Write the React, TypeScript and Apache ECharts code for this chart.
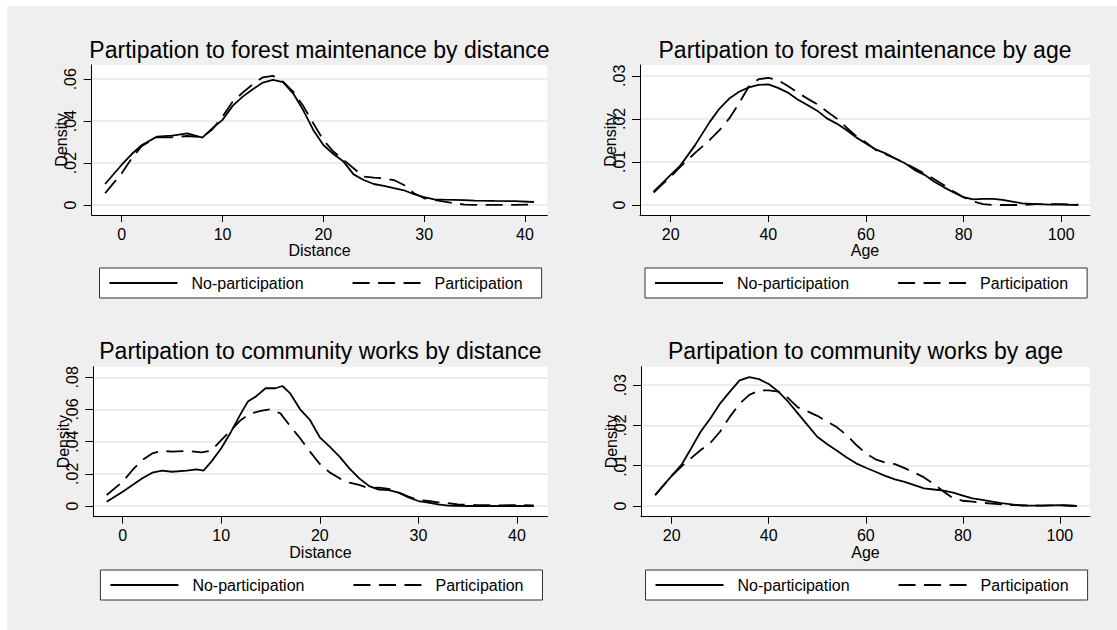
import React, { useEffect, useRef } from 'react';
import * as echarts from 'echarts';

const FONT = '"Liberation Sans", Arial, Helvetica, sans-serif';

// ---------- texts ----------
const panelTitles = [
  'Partipation to forest maintenance by distance',
  'Partipation to forest maintenance by age',
  'Partipation to community works by distance',
  'Partipation to community works by age',
];
const seriesNames = ['No-participation', 'Participation'];
const xTitles = ['Distance', 'Age', 'Distance', 'Age'];
const yTitle = 'Density';

// ---------- tick values ----------
const distTicks = [0, 10, 20, 30, 40];
const ageTicks = [20, 40, 60, 80, 100];
const forestDistYTicks = [0, 0.02, 0.04, 0.06];
const forestAgeYTicks = [0, 0.01, 0.02, 0.03];
const communityDistYTicks = [0, 0.02, 0.04, 0.06, 0.08];
const communityAgeYTicks = [0, 0.01, 0.02, 0.03];

// ---------- panel 1: forest maintenance by distance ----------
const forestDistX = [-1.65, 0, 1, 2, 3.5, 5, 6.5, 8, 9, 10, 11, 12, 13, 14, 15, 16, 17, 18, 19, 20, 21, 22, 23, 24, 25, 26, 27, 28, 29, 30, 31, 32, 33, 34, 35, 37, 39, 40.9];
const forestDistNo = [0.0100, 0.0192, 0.0243, 0.0286, 0.0326, 0.0331, 0.0342, 0.0321, 0.0366, 0.0406, 0.0473, 0.0517, 0.0552, 0.0584, 0.0597, 0.0586, 0.0533, 0.0453, 0.0358, 0.0286, 0.0243, 0.0207, 0.0146, 0.0119, 0.0100, 0.0091, 0.0080, 0.0070, 0.0051, 0.0037, 0.0027, 0.0025, 0.0024, 0.0023, 0.0021, 0.0019, 0.0018, 0.0014];
const forestDistYes = [0.0056, 0.0151, 0.0223, 0.0282, 0.0323, 0.0323, 0.0329, 0.0323, 0.0361, 0.0422, 0.0493, 0.0536, 0.0576, 0.0609, 0.0616, 0.0589, 0.0541, 0.0473, 0.0390, 0.0310, 0.0255, 0.0215, 0.0175, 0.0135, 0.0130, 0.0127, 0.0119, 0.0095, 0.0056, 0.0032, 0.0024, 0.0016, 0.0008, 0.0002, 0.0000, 0.0000, 0.0000, 0.0002];

// ---------- panel 2: forest maintenance by age ----------
const forestAgeX = [16.5, 20, 22, 25, 28, 30, 32, 34, 36, 38, 40, 42, 44, 46, 48, 50, 52, 54, 56, 58, 60, 62, 64, 66, 68, 70, 72, 74, 76, 78, 80, 82, 84, 86, 88, 90, 92, 95, 98, 100, 103.5];
const forestAgeNo = [0.0031, 0.0070, 0.0092, 0.0139, 0.0193, 0.0224, 0.0247, 0.0263, 0.0273, 0.0279, 0.0280, 0.0272, 0.0261, 0.0245, 0.0232, 0.0219, 0.0201, 0.0189, 0.0174, 0.0157, 0.0143, 0.0129, 0.0120, 0.0108, 0.0097, 0.0081, 0.0070, 0.0054, 0.0041, 0.0029, 0.0018, 0.0013, 0.0014, 0.0014, 0.0012, 0.0008, 0.0004, 0.0002, 0.0001, 0.0001, 0.0000];
const forestAgeYes = [0.0029, 0.0066, 0.0089, 0.0121, 0.0151, 0.0174, 0.0201, 0.0236, 0.0275, 0.0292, 0.0295, 0.0290, 0.0276, 0.0261, 0.0247, 0.0234, 0.0217, 0.0201, 0.0180, 0.0160, 0.0145, 0.0128, 0.0118, 0.0108, 0.0097, 0.0085, 0.0073, 0.0060, 0.0046, 0.0031, 0.0018, 0.0008, 0.0002, 0.0000, 0.0000, 0.0000, 0.0000, 0.0002, 0.0002, 0.0002, 0.0001];

// ---------- panel 3: community works by distance ----------
const communityDistNoX = [-1.62, 0, 1, 2, 3, 4, 5, 6.5, 7.5, 8.2, 9, 10, 11, 12, 12.7, 13.5, 14.5, 15.5, 16.2, 17, 18, 19, 20, 21, 22, 23, 24, 25, 26, 27, 28, 29, 30, 31, 32, 33, 35, 38, 40, 41.7];
const communityDistNo = [0.0027, 0.0089, 0.0131, 0.0172, 0.0207, 0.0220, 0.0213, 0.0220, 0.0228, 0.0220, 0.0276, 0.0359, 0.0462, 0.0576, 0.0649, 0.0680, 0.0732, 0.0732, 0.0746, 0.0700, 0.0601, 0.0535, 0.0427, 0.0369, 0.0307, 0.0234, 0.0172, 0.0124, 0.0102, 0.0099, 0.0083, 0.0054, 0.0031, 0.0021, 0.0010, 0.0002, 0.0000, 0.0000, 0.0000, 0.0000];
const communityDistYesX = [-1.62, 0, 1, 2, 3, 4, 5, 6.5, 8, 9, 10, 11, 12, 13, 14, 15, 16, 17, 18, 19, 20, 21, 22, 23, 24, 25, 26, 27, 28, 29, 30, 31, 32, 33, 34, 36, 38, 40, 41.7];
const communityDistYes = [0.0068, 0.0151, 0.0224, 0.0286, 0.0327, 0.0342, 0.0338, 0.0342, 0.0334, 0.0344, 0.0410, 0.0473, 0.0535, 0.0576, 0.0591, 0.0601, 0.0576, 0.0497, 0.0421, 0.0338, 0.0261, 0.0209, 0.0172, 0.0145, 0.0131, 0.0110, 0.0114, 0.0106, 0.0083, 0.0058, 0.0037, 0.0031, 0.0023, 0.0017, 0.0010, 0.0006, 0.0004, 0.0006, 0.0004];

// ---------- panel 4: community works by age ----------
const communityAgeX = [16.6, 20, 22, 24, 26, 28, 30, 32, 34, 36, 38, 40, 42, 44, 46, 48, 50, 52, 54, 56, 58, 60, 62, 64, 66, 68, 70, 72, 74, 76, 78, 80, 82, 84, 86, 88, 90, 92, 96, 100, 103.5];
const communityAgeNo = [0.0027, 0.0075, 0.0102, 0.0143, 0.0185, 0.0218, 0.0255, 0.0284, 0.0312, 0.0320, 0.0315, 0.0303, 0.0284, 0.0259, 0.0230, 0.0201, 0.0172, 0.0154, 0.0138, 0.0121, 0.0106, 0.0095, 0.0085, 0.0075, 0.0066, 0.0060, 0.0052, 0.0044, 0.0041, 0.0038, 0.0033, 0.0026, 0.0019, 0.0015, 0.0011, 0.0007, 0.0004, 0.0001, 0.0001, 0.0002, 0.0000];
const communityAgeYes = [0.0027, 0.0075, 0.0098, 0.0119, 0.0139, 0.0157, 0.0185, 0.0222, 0.0254, 0.0276, 0.0287, 0.0287, 0.0284, 0.0268, 0.0245, 0.0235, 0.0224, 0.0210, 0.0196, 0.0177, 0.0152, 0.0131, 0.0116, 0.0108, 0.0104, 0.0094, 0.0083, 0.0071, 0.0055, 0.0036, 0.0019, 0.0013, 0.0011, 0.0008, 0.0006, 0.0004, 0.0002, 0.0002, 0.0001, 0.0002, 0.0000];

const zip = (xs: number[], ys: number[]) => xs.map((x, i) => [x, ys[i]]);

// layout of the four panels (chart coordinates)
const panels = [
  { left: 84.7, top: 59, width: 455.6, height: 150, xMin: -2.98, xMax: 42.22, yMin: -0.0048, yMax: 0.0668, xTicks: distTicks, yTicks: forestDistYTicks },
  { left: 633, top: 59, width: 450, height: 150, xMin: 13.71, xMax: 105.9, yMin: -0.00232, yMax: 0.0325, xTicks: ageTicks, yTicks: forestAgeYTicks },
  { left: 86.3, top: 360.7, width: 454.2, height: 150, xMin: -2.98, xMax: 43.1, yMin: -0.00665, yMax: 0.0866, xTicks: distTicks, yTicks: communityDistYTicks },
  { left: 634, top: 360.7, width: 449, height: 150, xMin: 13.68, xMax: 106.2, yMin: -0.00266, yMax: 0.0346, xTicks: ageTicks, yTicks: communityAgeYTicks },
];

const panelData = [
  [zip(forestDistX, forestDistNo), zip(forestDistX, forestDistYes)],
  [zip(forestAgeX, forestAgeNo), zip(forestAgeX, forestAgeYes)],
  [zip(communityDistNoX, communityDistNo), zip(communityDistYesX, communityDistYes)],
  [zip(communityAgeX, communityAgeNo), zip(communityAgeX, communityAgeYes)],
];

const fmtY = (v: number) => (v === 0 ? '0' : String(+v.toFixed(3)).replace(/^0/, ''));

function buildOption() {
  const grid: any[] = [];
  const xAxis: any[] = [];
  const yAxis: any[] = [];
  const title: any[] = [];
  const legend: any[] = [];
  const series: any[] = [];

  panels.forEach((p, i) => {
    grid.push({
      left: p.left, top: p.top, width: p.width, height: p.height,
      show: true, backgroundColor: '#ffffff', borderWidth: 0, containLabel: false,
    });
    xAxis.push({
      type: 'value', gridIndex: i, min: p.xMin, max: p.xMax,
      name: xTitles[i], nameLocation: 'middle', nameGap: 26,
      nameTextStyle: { fontFamily: FONT, fontSize: 16, color: '#000' },
      axisLine: { show: true, onZero: false, lineStyle: { color: '#000', width: 1 } },
      axisTick: { show: true, length: 7, customValues: p.xTicks, lineStyle: { color: '#000', width: 1 } },
      axisLabel: { customValues: p.xTicks, margin: 11, fontFamily: FONT, fontSize: 16, color: '#000' },
      splitLine: { show: false },
    });
    yAxis.push({
      type: 'value', gridIndex: i, min: p.yMin, max: p.yMax,
      name: yTitle, nameLocation: 'middle', nameGap: 22, nameRotate: 90, nameMoveOverlap: false,
      nameTextStyle: { fontFamily: FONT, fontSize: 16, color: '#000' },
      axisLine: { show: true, onZero: false, lineStyle: { color: '#000', width: 1 } },
      axisTick: { show: true, length: 8, customValues: p.yTicks, lineStyle: { color: '#000', width: 1 } },
      axisLabel: { customValues: p.yTicks, rotate: 90, margin: 13, fontFamily: FONT, fontSize: 16, color: '#000', formatter: fmtY },
      splitLine: { show: true, lineStyle: { color: '#e6e6e6', width: 1.5 } },
    });
    const cx = p.left + p.width / 2;
    title.push({
      text: panelTitles[i], left: cx, top: i < 2 ? 32 : 333, textAlign: 'center', padding: 0,
      textStyle: { fontFamily: FONT, fontSize: 23, fontWeight: 'normal', color: '#000' },
    });
    legend.push({
      data: seriesNames, left: cx - 220, top: i < 2 ? 262 : 564, orient: 'horizontal',
      itemWidth: 68, itemHeight: 18, itemGap: 48, padding: [6, 19, 6, 9],
      backgroundColor: '#ffffff', borderColor: '#333333', borderWidth: 1, borderRadius: 0,
      selectedMode: false,
      itemStyle: { opacity: 0, borderWidth: 0 },
      textStyle: { fontFamily: FONT, fontSize: 16, color: '#000', lineHeight: 18, padding: [0, 0, 0, 9] },
    });
    panelData[i].forEach((d, k) => {
      series.push({
        type: 'line', name: seriesNames[k], xAxisIndex: i, yAxisIndex: i,
        data: d, symbol: 'none', showSymbol: false, smooth: false, clip: true,
        lineStyle: { color: '#000', width: 1.8, type: k === 0 ? 'solid' : [17, 8.5] },
        itemStyle: { color: '#000' },
      });
    });
  });

  return {
    animation: false,
    backgroundColor: '#efefef',
    textStyle: { fontFamily: FONT },
    grid, xAxis, yAxis, title, legend, series,
  };
}

export default function App() {
  const ref = useRef<HTMLDivElement>(null);
  useEffect(() => {
    const chart = echarts.init(ref.current as HTMLDivElement, undefined, { renderer: 'svg' });
    chart.setOption(buildOption() as any);
    return () => chart.dispose();
  }, []);
  return <div ref={ref} style={{ position: 'absolute', left: 7, top: 6, width: 1110, height: 624 }} />;
}
